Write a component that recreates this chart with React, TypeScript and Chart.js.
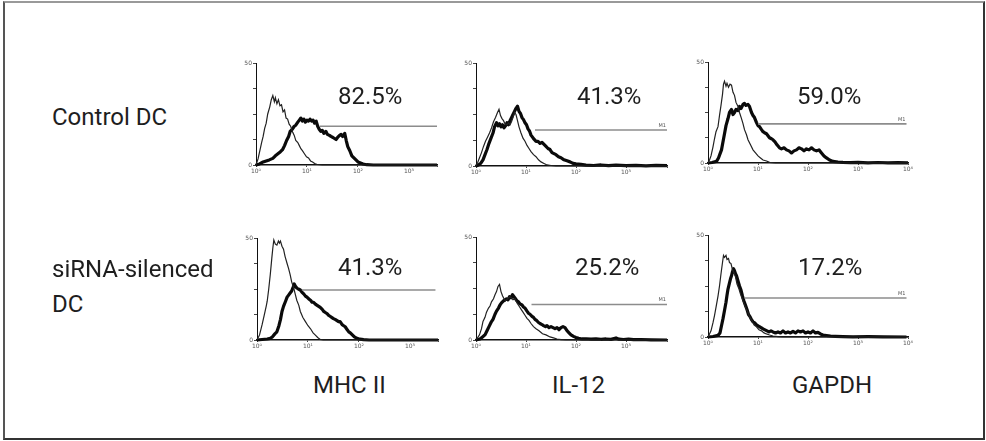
import React, { useEffect, useRef } from "react";
import { Chart, registerables } from "chart.js";

Chart.register(...registerables);

// ---- Data: fluorescence histograms (x = log10 intensity, y = % of axis max) ----
const mhcControlIso = [[0,0],[0.04,6],[0.08,15],[0.11,22],[0.14,28],[0.17,36],[0.2,41],[0.23,50],[0.27,57],[0.3,64],[0.33,68],[0.36,62],[0.38,66],[0.41,60],[0.44,64],[0.47,58],[0.5,59],[0.53,52],[0.56,54],[0.59,46],[0.62,45],[0.65,40],[0.68,38],[0.72,32],[0.75,29],[0.78,24],[0.82,22],[0.85,19],[0.88,16],[0.91,14],[0.95,11],[0.99,8],[1.03,7],[1.07,4],[1.11,3],[1.15,1.5],[1.2,0.5],[1.3,0],[3.55,0]];
const mhcControlStain = [[0,0],[0.07,1],[0.14,3],[0.2,4],[0.26,5],[0.33,6.5],[0.38,9],[0.43,11],[0.48,13],[0.52,15],[0.56,19],[0.6,24],[0.64,28],[0.67,33],[0.71,35],[0.75,38],[0.78,39],[0.82,42],[0.85,44],[0.88,46],[0.91,43],[0.94,45],[0.97,42],[1.0,44],[1.03,43],[1.06,45],[1.09,43],[1.12,44],[1.15,41],[1.18,43],[1.21,38],[1.24,35],[1.27,33],[1.3,34],[1.33,31],[1.37,33],[1.4,30],[1.44,29],[1.47,28],[1.51,27],[1.54,26],[1.57,25],[1.6,27],[1.64,29],[1.67,30],[1.7,28],[1.74,31],[1.77,24],[1.8,18],[1.84,14],[1.88,9],[1.92,7],[1.96,5],[2.0,3],[2.05,2],[2.1,1],[2.17,0.3],[2.3,0],[3.55,0]];

const il12ControlIso = [[0,0],[0.03,3],[0.07,8],[0.11,13],[0.15,19],[0.19,24],[0.23,28],[0.27,32],[0.31,37],[0.35,43],[0.39,47],[0.43,52],[0.46,55],[0.49,49],[0.52,46],[0.55,44],[0.58,41],[0.62,40],[0.65,42],[0.68,40],[0.71,43],[0.74,47],[0.77,52],[0.8,50],[0.83,44],[0.86,38],[0.9,32],[0.94,27],[0.98,24],[1.02,20],[1.06,17],[1.1,14],[1.15,11],[1.2,9],[1.25,6],[1.3,4],[1.36,2.5],[1.42,1],[1.5,0.5],[1.6,0],[3.82,0]];
const il12ControlStain = [[0,0],[0.05,1],[0.1,3],[0.14,6],[0.18,11],[0.22,16],[0.26,22],[0.3,27],[0.34,32],[0.37,38],[0.41,42],[0.44,39],[0.47,41],[0.5,38],[0.53,40],[0.56,37],[0.59,39],[0.62,42],[0.65,40],[0.68,44],[0.71,47],[0.74,50],[0.77,53],[0.8,56],[0.83,58],[0.86,53],[0.89,51],[0.92,47],[0.95,45],[0.98,42],[1.01,40],[1.04,36],[1.07,34],[1.1,30],[1.13,28],[1.16,26],[1.2,24],[1.24,24],[1.28,22],[1.32,23],[1.36,21],[1.4,19],[1.44,17],[1.48,16],[1.52,13],[1.56,12],[1.6,11],[1.65,9],[1.7,8],[1.76,6],[1.82,5],[1.88,4],[1.94,2.5],[2.0,2],[2.1,1.5],[2.2,0.8],[2.35,0.5],[2.5,1],[2.65,0.3],[2.8,0.8],[3.0,0.3],[3.2,0.6],[3.4,0.2],[3.6,0.7],[3.82,0.3]];

const gapdhControlIso = [[0,0],[0.03,3],[0.06,7],[0.1,16],[0.13,24],[0.16,31],[0.2,36],[0.23,47],[0.26,57],[0.29,68],[0.31,78],[0.33,81],[0.36,76],[0.38,79],[0.41,75],[0.44,78],[0.47,77],[0.5,70],[0.53,67],[0.56,60],[0.6,56],[0.63,50],[0.67,44],[0.7,39],[0.73,33],[0.77,28],[0.8,23],[0.85,18],[0.9,13],[0.95,10],[1.0,7],[1.05,5],[1.1,3],[1.17,2],[1.23,0.6],[1.35,0],[4,0]];
const gapdhControlStain = [[0,0],[0.08,0.5],[0.17,1.6],[0.21,5],[0.24,9],[0.27,13],[0.3,21],[0.33,29],[0.36,37],[0.4,44],[0.43,50],[0.47,53],[0.5,48],[0.53,50],[0.56,53],[0.6,52],[0.63,56],[0.66,54],[0.7,58],[0.73,59],[0.76,57],[0.8,58],[0.83,56],[0.87,50],[0.9,47],[0.93,45],[0.97,40],[1.0,37],[1.03,36],[1.07,33],[1.1,31],[1.13,30],[1.17,29],[1.2,27],[1.23,25],[1.27,24],[1.3,23],[1.34,21],[1.38,18],[1.43,15],[1.47,14],[1.52,15],[1.57,13],[1.62,12],[1.67,10],[1.72,12],[1.77,13],[1.82,15],[1.87,14],[1.92,12],[1.97,14],[2.02,13],[2.07,15],[2.12,13],[2.17,12],[2.22,13],[2.27,10],[2.32,7],[2.37,5],[2.43,3],[2.5,1.6],[2.6,1],[2.7,0.6],[2.85,0.3],[3.0,0.6],[3.2,0.2],[3.4,0.5],[3.6,0.2],[3.8,0.4],[4.0,0.1]];

const mhcSilencedIso = [[0,0],[0.05,5],[0.1,15],[0.14,24],[0.18,33],[0.2,38],[0.23,50],[0.26,64],[0.29,80],[0.31,90],[0.33,98],[0.36,94],[0.39,93],[0.42,97],[0.44,95],[0.46,97],[0.49,92],[0.52,89],[0.55,82],[0.59,75],[0.62,70],[0.65,64],[0.68,57],[0.72,51],[0.75,45],[0.78,39],[0.82,34],[0.85,28],[0.9,22],[0.95,18],[1.0,14],[1.05,11],[1.1,7],[1.14,5],[1.19,2.5],[1.24,0.5],[1.3,0],[3.55,0]];
const mhcSilencedStain = [[0,0],[0.1,0.5],[0.2,1],[0.26,1.6],[0.3,3],[0.35,6],[0.39,8],[0.43,14],[0.46,20],[0.49,28],[0.52,33],[0.56,38],[0.59,42],[0.62,44],[0.65,46],[0.68,48],[0.71,52],[0.73,55],[0.75,53],[0.78,51],[0.81,50],[0.85,49],[0.88,47],[0.92,45],[0.95,43],[0.98,42],[1.02,40],[1.05,39],[1.08,37],[1.11,37],[1.15,35],[1.18,34],[1.21,33],[1.24,32],[1.28,30],[1.31,28],[1.34,27],[1.37,26],[1.41,24],[1.44,23],[1.47,22],[1.5,21],[1.54,20],[1.57,19],[1.6,18],[1.63,18],[1.67,15],[1.7,14],[1.73,13],[1.77,10],[1.8,8],[1.83,7],[1.87,5],[1.91,3],[1.96,1.6],[2.02,0.8],[2.09,0.3],[2.2,0],[3.55,0]];

const il12SilencedIso = [[0,0],[0.03,2],[0.07,5],[0.11,11],[0.14,18],[0.18,22],[0.21,27],[0.25,31],[0.28,33],[0.31,37],[0.35,40],[0.38,44],[0.41,47],[0.44,52],[0.47,54],[0.5,47],[0.53,43],[0.56,40],[0.59,38],[0.63,40],[0.67,42],[0.71,41],[0.74,39],[0.78,40],[0.82,36],[0.86,33],[0.9,30],[0.94,27],[0.98,24],[1.02,21],[1.06,19],[1.1,16],[1.15,13],[1.2,11],[1.26,9],[1.33,6],[1.4,5],[1.48,3],[1.55,2],[1.62,1],[1.7,0.3],[1.8,0],[3.82,0]];
const il12SilencedStain = [[0,0],[0.08,1],[0.13,3],[0.18,5],[0.22,9],[0.26,13],[0.3,17],[0.34,20],[0.38,25],[0.41,28],[0.45,31],[0.48,34],[0.51,36],[0.55,38],[0.58,39],[0.61,40],[0.64,39],[0.67,42],[0.7,41],[0.73,44],[0.76,42],[0.79,40],[0.82,38],[0.85,37],[0.88,35],[0.92,34],[0.95,32],[0.98,31],[1.02,28],[1.05,26],[1.08,25],[1.12,23],[1.15,22],[1.18,20],[1.21,19],[1.25,17],[1.28,16],[1.32,15],[1.35,14],[1.39,13],[1.42,14],[1.46,12],[1.5,13],[1.54,12],[1.58,11],[1.62,12],[1.66,10],[1.7,12],[1.74,13],[1.78,12],[1.82,9],[1.86,7],[1.9,5],[1.95,3.5],[2.0,2.5],[2.05,1.6],[2.12,1],[2.2,1.2],[2.3,0.8],[2.4,1.1],[2.5,0.7],[2.6,1],[2.7,0.6],[2.8,2],[2.86,0.8],[2.95,0.5],[3.05,0.8],[3.15,0.3],[3.3,0.5],[3.5,0.2],[3.82,0]];

const gapdhSilencedIso = [[0,0],[0.03,3],[0.06,6],[0.1,14],[0.13,21],[0.16,29],[0.2,40],[0.23,50],[0.26,62],[0.29,73],[0.31,80],[0.33,78],[0.36,80],[0.38,76],[0.41,77],[0.43,73],[0.46,72],[0.49,66],[0.52,63],[0.55,59],[0.58,52],[0.62,47],[0.65,42],[0.69,37],[0.72,33],[0.76,28],[0.8,24],[0.84,19],[0.88,16],[0.92,12],[0.97,10],[1.02,7],[1.07,6],[1.12,4],[1.17,3],[1.23,2],[1.3,1],[1.4,0.3],[1.5,0],[4,0]];
const gapdhSilencedStain = [[0,0],[0.1,0.5],[0.2,1.6],[0.24,4],[0.27,11],[0.3,18],[0.33,26],[0.36,34],[0.38,41],[0.4,47],[0.43,53],[0.45,57],[0.47,60],[0.49,64],[0.51,67],[0.53,65],[0.55,62],[0.57,60],[0.6,55],[0.63,50],[0.66,46],[0.69,40],[0.72,35],[0.75,31],[0.78,27],[0.81,22],[0.84,20],[0.87,17],[0.9,15],[0.93,14],[0.97,12],[1.0,11],[1.03,10],[1.07,9],[1.1,8],[1.14,7],[1.18,6],[1.22,5],[1.26,6],[1.3,5],[1.35,4],[1.4,5],[1.45,4],[1.5,6],[1.55,4],[1.6,5],[1.65,4],[1.7,5.5],[1.75,4],[1.8,6],[1.85,5],[1.9,6],[1.95,4],[2.0,5],[2.05,4],[2.1,6],[2.15,4],[2.2,4.5],[2.25,3],[2.3,2],[2.37,1.5],[2.45,1],[2.55,0.7],[2.7,0.4],[2.9,0.2],[3.2,0.3],[3.5,0.1],[3.97,0]];

// M1 gate markers: [start decade, end decade, level %]
const m1Gates = [[1.25,3.55,38],[1.18,3.82,35],[1.0,3.97,38.7],[0.88,3.5,49],[1.11,3.82,34.5],[0.73,3.97,38.3]];
const m1Labelled = [false, true, true, false, true, true];

const percentLabels = ["82.5%", "41.3%", "59.0%", "41.3%", "25.2%", "17.2%"];
const rowLabels = ["Control DC", "siRNA-silenced", "DC"];
const columnLabels = ["MHC II", "IL-12", "GAPDH"];
const decadeLabels = ["10\u2070", "10\u00b9", "10\u00b2", "10\u00b3", "10\u2074"];

const isoSeries = [mhcControlIso, il12ControlIso, gapdhControlIso, mhcSilencedIso, il12SilencedIso, gapdhSilencedIso];
const stainSeries = [mhcControlStain, il12ControlStain, gapdhControlStain, mhcSilencedStain, il12SilencedStain, gapdhSilencedStain];

// ---- Layout (positions in px) ----
const panelLayout = [
  { axisX: 256, top: 63, base: 165, xMax: 3.55, ppd: 51 },
  { axisX: 476, top: 63, base: 166, xMax: 3.82, ppd: 50 },
  { axisX: 708, top: 62, base: 163, xMax: 4.0, ppd: 50 },
  { axisX: 257, top: 238, base: 340, xMax: 3.55, ppd: 51 },
  { axisX: 476, top: 237, base: 340, xMax: 3.82, ppd: 50 },
  { axisX: 708, top: 235, base: 337, xMax: 4.0, ppd: 50 },
];
const percentPos = [[338, 104], [577, 104], [797, 104], [338, 275], [575, 275], [798, 275]];
const rowPos = [[52, 125], [52, 277], [52, 312]];
const colPos = [[313, 393], [552, 393], [792, 393]];

const PAD_L = 16, PAD_T = 6, PAD_R = 12, PAD_B = 14;

const decorPlugin = {
  id: "decor",
  afterDraw(chart: any, _args: any, opts: any) {
    const { ctx } = chart;
    const x = chart.scales.x, y = chart.scales.y;
    ctx.save();
    ctx.fillStyle = "#555";
    ctx.font = '6px "DejaVu Sans"';
    ctx.textAlign = "center";
    ctx.textBaseline = "top";
    decadeLabels.forEach((lab, d) => {
      if (d <= opts.xMax + 0.001) ctx.fillText(lab, x.getPixelForValue(d), y.getPixelForValue(0) + 3);
    });
    ctx.textAlign = "right";
    ctx.textBaseline = "middle";
    ctx.fillText("0", x.getPixelForValue(0) - 4, y.getPixelForValue(0));
    ctx.fillText("50", x.getPixelForValue(0) - 4, y.getPixelForValue(100));
    if (opts.m1) {
      ctx.font = '5px "DejaVu Sans"';
      ctx.textBaseline = "bottom";
      ctx.fillText("M1", x.getPixelForValue(opts.m1End) - 1, y.getPixelForValue(opts.m1Level) - 2);
    }
    ctx.restore();
  },
};

function Panel({ idx }: { idx: number }) {
  const ref = useRef<HTMLCanvasElement>(null);
  const L = panelLayout[idx];
  const plotW = Math.round(L.xMax * L.ppd);
  const plotH = L.base - L.top;
  const w = PAD_L + plotW + PAD_R;
  const h = PAD_T + plotH + PAD_B;
  useEffect(() => {
    const g = m1Gates[idx];
    const toPts = (arr: number[][]) => arr.map(([x, y]) => ({ x, y }));
    const chart = new Chart(ref.current as HTMLCanvasElement, {
      type: "line",
      data: {
        datasets: [
          { data: [{ x: g[0], y: g[2] }, { x: g[1], y: g[2] }], borderColor: "#8c8c8c", borderWidth: 1.6, pointRadius: 0, clip: false } as any,
          { data: toPts(isoSeries[idx]), borderColor: "#222", borderWidth: 1.2, pointRadius: 0, tension: 0, clip: false } as any,
          { data: toPts(stainSeries[idx]), borderColor: "#0a0a0a", borderWidth: 3.2, pointRadius: 0, tension: 0, clip: false, borderJoinStyle: "round" } as any,
        ],
      },
      options: {
        animation: false,
        responsive: false,
        devicePixelRatio: 1,
        layout: { padding: { left: 0, top: PAD_T, right: PAD_R, bottom: 0 } },
        plugins: {
          legend: { display: false },
          tooltip: { enabled: false },
          decor: { xMax: L.xMax, m1: m1Labelled[idx], m1End: g[1], m1Level: g[2] },
        } as any,
        scales: {
          x: {
            type: "linear",
            min: 0,
            max: L.xMax,
            ticks: { display: false, stepSize: 1 },
            grid: { drawOnChartArea: false, drawTicks: true, tickLength: 2, color: "#444" },
            border: { color: "#111", width: 1.6 },
            afterFit: (s: any) => { s.height = PAD_B; },
          },
          y: {
            min: 0,
            max: 100,
            ticks: { display: false, stepSize: 25 },
            grid: { drawOnChartArea: false, drawTicks: true, tickLength: 3, color: "#444" },
            border: { color: "#111", width: 1 },
            afterFit: (s: any) => { s.width = PAD_L; },
          },
        },
      } as any,
      plugins: [decorPlugin],
    });
    return () => chart.destroy();
  }, [idx]);
  return (
    <canvas
      ref={ref}
      width={w}
      height={h}
      style={{ position: "absolute", left: L.axisX - PAD_L, top: L.top - PAD_T, width: w, height: h }}
    />
  );
}

const textStyle = (left: number, baseline: number): React.CSSProperties => ({
  position: "absolute",
  left,
  top: baseline - 20,
  fontFamily: "Roboto, sans-serif",
  fontSize: 24,
  lineHeight: "24px",
  color: "#1e1e1e",
  whiteSpace: "nowrap",
});

export default function App() {
  return (
    <div style={{ position: "fixed", left: 0, top: 0, width: 986, height: 441, background: "#fff", overflow: "hidden" }}>
      <div
        style={{
          position: "absolute",
          left: 3,
          top: 1,
          width: 982,
          height: 439,
          boxSizing: "border-box",
          borderStyle: "solid",
          borderWidth: 2,
          borderColor: "#999 #333 #333 #555",
        }}
      />
      {panelLayout.map((_, i) => <Panel key={i} idx={i} />)}
      {percentLabels.map((t, i) => <div key={"p" + i} style={textStyle(percentPos[i][0], percentPos[i][1])}>{t}</div>)}
      {rowLabels.map((t, i) => <div key={"r" + i} style={textStyle(rowPos[i][0], rowPos[i][1])}>{t}</div>)}
      {columnLabels.map((t, i) => <div key={"c" + i} style={textStyle(colPos[i][0], colPos[i][1])}>{t}</div>)}
    </div>
  );
}
